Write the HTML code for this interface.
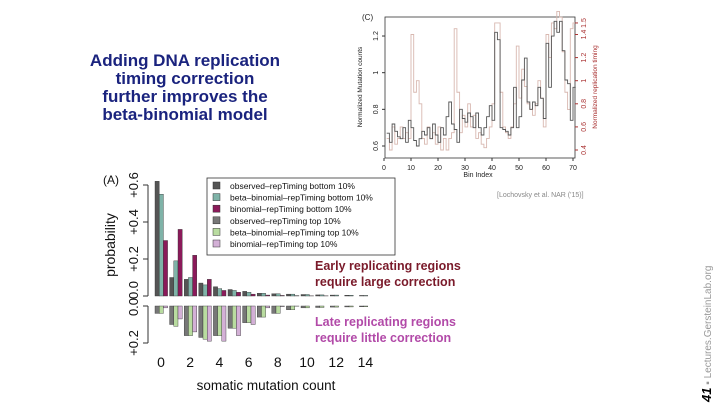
<!DOCTYPE html>
<html><head><meta charset="utf-8"><style>
body{margin:0;width:720px;height:405px;background:#fff;overflow:hidden;font-family:"Liberation Sans",sans-serif}
</style></head><body>
<div style="position:relative;width:720px;height:405px">
<div style="position:absolute;left:75px;top:52px;width:220px;text-align:center;color:#1a237e;font-weight:bold;font-size:17px;line-height:18px;white-space:nowrap">Adding DNA replication<br>timing correction<br>further improves the<br>beta-binomial model</div>
<div style="position:absolute;left:699px;top:402px;transform-origin:0 0;transform:rotate(-90deg);white-space:nowrap;font-size:10px;color:#999"><b style="color:#000;font-size:13px;font-style:italic">41</b> ▪ Lectures.GersteinLab.org</div>
<svg id="svg" width="720" height="405" style="position:absolute;left:0;top:0"></svg>
</div>
<script>
const countsA=[0,1,2,3,4,5,6,7,8,9,10,11,12,13,14];
const obsBottom=[0.62,0.10,0.09,0.07,0.05,0.035,0.025,0.015,0.012,0.01,0.008,0.006,0.005,0.004,0.003];
const bbBottom=[0.55,0.19,0.10,0.06,0.04,0.03,0.02,0.015,0.012,0.01,0.008,0.006,0.005,0.004,0.003];
const binBottom=[0.30,0.36,0.22,0.09,0.03,0.02,0.01,0.005,0.003,0.002,0.001,0.001,0,0,0];
const obsTop=[0.04,0.10,0.16,0.17,0.16,0.12,0.09,0.06,0.04,0.02,0.01,0.008,0.006,0.005,0.004];
const bbTop=[0.04,0.11,0.16,0.18,0.16,0.12,0.09,0.06,0.04,0.02,0.01,0.008,0.006,0.005,0.004];
const binTop=[0.01,0.07,0.14,0.19,0.19,0.16,0.10,0.01,0.003,0.001,0,0,0,0,0];
const yTicksUp=[0,0.2,0.4,0.6];
const yLabelsUp=["0.0","+0.2","+0.4","+0.6"];
const xTickVals=[0,2,4,6,8,10,12,14];
const legendLabels=["observed–repTiming bottom 10%","beta–binomial–repTiming bottom 10%","binomial–repTiming bottom 10%","observed–repTiming top 10%","beta–binomial–repTiming top 10%","binomial–repTiming top 10%"];
const mutCounts=[0.67,0.62,0.72,0.68,0.65,0.64,0.70,0.62,0.74,0.70,0.63,0.60,0.64,0.68,0.66,0.70,0.64,0.72,0.66,0.62,0.70,0.66,0.76,0.84,0.72,0.69,0.62,0.80,0.75,0.73,0.78,0.76,0.70,0.78,0.70,0.66,0.70,0.76,0.82,0.74,1.22,1.18,0.70,0.69,0.68,0.66,0.70,0.92,0.70,0.76,0.96,1.08,0.84,0.80,0.84,0.82,0.92,0.86,0.75,1.16,0.92,1.20,1.28,1.22,1.28,1.12,0.96,0.94,0.74,0.92];
const repTiming=[0.5,0.4,0.6,0.45,0.5,0.6,0.5,0.55,0.5,1.4,0.9,1.0,0.8,0.5,0.45,0.6,0.5,0.55,0.45,0.6,0.4,0.5,0.4,0.5,0.55,1.45,0.9,0.55,0.7,0.6,0.8,0.6,0.7,0.5,0.55,0.45,0.42,0.5,0.6,0.8,1.5,1.5,0.9,0.6,0.55,0.5,0.6,0.8,1.3,0.85,1.1,0.95,0.8,0.75,0.7,0.8,1.0,0.85,0.6,1.4,1.2,1.5,1.45,1.6,1.55,1.25,0.9,0.75,1.45,1.5];
const xTicksC=[0,10,20,30,40,50,60,70];
const yTicksCL=[0.6,0.8,1,1.2];
const yTicksCR=[0.4,0.6,0.8,1,1.2,1.4,1.5];

const svg=document.getElementById('svg');
const NS="http://www.w3.org/2000/svg";
function mk(tag,a,parent){const e=document.createElementNS(NS,tag);for(const k in a)e.setAttribute(k,a[k]);(parent||svg).appendChild(e);return e;}
function txt(s,a,p){const e=mk('text',a,p);e.textContent=s;return e;}

// Chart A
const yUp=v=>296-v*185, yDn=v=>306+v*185, xA=c=>155+c*14.6;
const gA=mk('g',{});


const upCols=["#555","#7fb3a8","#8b1a5a"], dnCols=["#777","#b9dca0","#d3b0d6"];
const upS=[obsBottom,bbBottom,binBottom], dnS=[obsTop,bbTop,binTop];
const bw=4.2;
countsA.forEach((c,i)=>{
  for(let s=0;s<3;s++){
    const x=xA(c)+s*bw, v=upS[s][i];
    const r=mk('rect',{x:x,y:yUp(v),width:bw,height:v*185,fill:upCols[s],stroke:"#333","stroke-width":0.4},gA);
    
    
    const w=dnS[s][i];
    const r2=mk('rect',{x:x,y:306,width:bw,height:w*185,fill:dnCols[s],stroke:"#333","stroke-width":0.4},gA);
    
    
  }
});
mk('line',{x1:148,y1:yUp(0.6),x2:148,y2:yUp(0),stroke:"#333"},gA);
yTicksUp.forEach((v,i)=>{mk('line',{x1:143,x2:148,y1:yUp(v),y2:yUp(v),stroke:"#333"},gA);
  const yy=i===0?yUp(v)-6:yUp(v);
  txt(yLabelsUp[i],{x:138,y:yy,transform:`rotate(-90 138 ${yy})`,"text-anchor":"middle","font-size":13,fill:"#111"},gA);});
mk('line',{x1:148,y1:yDn(0),x2:148,y2:yDn(0.2),stroke:"#333"},gA);
[0,0.2].forEach((v,i)=>{mk('line',{x1:143,x2:148,y1:yDn(v),y2:yDn(v),stroke:"#333"},gA);
  const yy=i?yDn(v):yDn(v)+1;
  txt(i?"+0.2":"0.0",{x:138,y:yy,transform:`rotate(-90 138 ${yy})`,"text-anchor":"middle","font-size":13,fill:"#111"},gA);});
xTickVals.forEach(v=>txt(String(v),{x:xA(v)+6,y:367,"text-anchor":"middle","font-size":14,fill:"#111"},gA));
txt("somatic mutation count",{x:266,y:390,"text-anchor":"middle","font-size":13.5,fill:"#111"},gA);
txt("probability",{x:115,y:245,transform:"rotate(-90 115 245)","text-anchor":"middle","font-size":14,fill:"#111"},gA);
txt("(A)",{x:103,y:184,"font-size":12,fill:"#111"},gA);
// legend
const lg=mk('g',{},gA);


mk('rect',{x:207,y:178,width:188,height:77,fill:"#fff",stroke:"#333","stroke-width":0.8},lg);
legendLabels.forEach((l,i)=>{const y=186+i*11.6;
  mk('rect',{x:213,y:y-4,width:7,height:7,fill:(upCols.concat(dnCols))[i],stroke:"#333","stroke-width":0.5},lg);
  txt(l,{x:230,y:y+3,"font-size":8.5,fill:"#111"},lg);});
txt("Early replicating regions",{x:315,y:270,"font-size":12.5,"font-weight":"bold",fill:"#7a1a2a"},gA);
txt("require large correction",{x:315,y:286,"font-size":12.5,"font-weight":"bold",fill:"#7a1a2a"},gA);
txt("Late replicating regions",{x:315,y:326,"font-size":12.5,"font-weight":"bold",fill:"#b24aa8"},gA);
txt("require little correction",{x:315,y:342,"font-size":12.5,"font-weight":"bold",fill:"#b24aa8"},gA);

// Chart C
const gC=mk('g',{});


const xC=v=>384+(v)*(189/70), yCL=v=>146-(v-0.6)*183.3, yCR=v=>150-(v-0.4)*115.5;
mk('rect',{x:385,y:17,width:190,height:141,fill:"none",stroke:"#333","stroke-width":0.8},gC);
function step(arr,yf,col,name){let d="";arr.forEach((v,i)=>{const x0=xC(i+1),x1=xC(i+2);d+=(i?"L":"M")+x0+","+yf(v)+"L"+x1+","+yf(v);});
  const p=mk('path',{d:d,fill:"none",stroke:col,"stroke-width":0.9},gC);}
step(repTiming,yCR,"#d8b8b0","rep-timing-line");
step(mutCounts,yCL,"#555","mutation-count-line");
xTicksC.forEach(v=>{mk('line',{x1:xC(v),x2:xC(v),y1:158,y2:161,stroke:"#333"},gC);txt(String(v),{x:xC(v),y:170,"text-anchor":"middle","font-size":7,fill:"#222"},gC);});
yTicksCL.forEach(v=>{mk('line',{x1:382,x2:385,y1:yCL(v),y2:yCL(v),stroke:"#333"},gC);txt(String(v),{x:378,y:yCL(v),transform:`rotate(-90 378 ${yCL(v)})`,"text-anchor":"middle","font-size":7,fill:"#222"},gC);});
yTicksCR.forEach(v=>{mk('line',{x1:575,x2:578,y1:yCR(v),y2:yCR(v),stroke:"#a33"},gC);txt(String(v),{x:586,y:yCR(v),transform:`rotate(-90 586 ${yCR(v)})`,"text-anchor":"middle","font-size":7,fill:"#a33"},gC);});
txt("Bin Index",{x:478,y:177,"text-anchor":"middle","font-size":7,fill:"#222"},gC);
txt("Normalized Mutation counts",{x:362,y:87,transform:"rotate(-90 362 87)","text-anchor":"middle","font-size":6.5,fill:"#222"},gC);
txt("Normalized replication timing",{x:597,y:87,transform:"rotate(-90 597 87)","text-anchor":"middle","font-size":6.5,fill:"#a33"},gC);
txt("(C)",{x:362,y:20,"font-size":8,fill:"#222"},gC);
txt("[Lochovsky et al. NAR ('15)]",{x:497,y:197,"font-size":7,fill:"#888"},gC);
</script>
</body></html>
